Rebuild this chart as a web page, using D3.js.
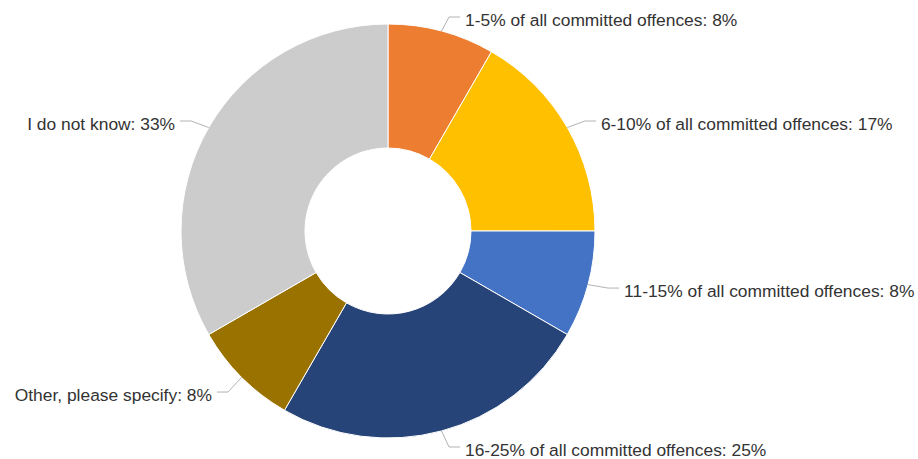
<!DOCTYPE html>
<html><head><meta charset="utf-8">
<script src="https://cdn.jsdelivr.net/npm/d3@7"></script>
<style>body{margin:0;background:#fff}svg{display:block}</style>
</head><body>
<svg id="chart" width="918" height="459"></svg>
<script>
const categories = ["1-5% of all committed offences","6-10% of all committed offences","11-15% of all committed offences","16-25% of all committed offences","Other, please specify","I do not know"];
const values = [8.33, 16.67, 8.33, 25, 8.33, 33.33];
const colors = ["#ED7D31","#FFC000","#4472C4","#264478","#9A7200","#CCCCCC"];

const W = 918, H = 459;
const cx = 388, cy = 231, rOuter = 207, rInner = 83, labelR = 232, pad = 12;
const svg = d3.select("#chart");
const data = categories.map((c,i)=>({cat:c, value:values[i], color:colors[i]}));
const pie = d3.pie().sort(null).value(d=>d.value);
const arcs = pie(data);
const arc = d3.arc().innerRadius(rInner).outerRadius(rOuter);
const total = d3.sum(values);

const g = svg.append("g").attr("transform",`translate(${cx},${cy})`);
g.selectAll("path.slice").data(arcs).join("path")
  .attr("class","slice").attr("d",arc).attr("fill",d=>d.data.color)
  .attr("stroke","#fff").attr("stroke-width",1);

arcs.forEach(a=>{
  const mid = (a.startAngle+a.endAngle)/2;
  const s = Math.sin(mid), c = Math.cos(mid);
  const side = s >= 0 ? 1 : -1;
  const ex = rOuter*s, ey = -rOuter*c;
  const nx = labelR*s, ny = -labelR*c;
  const ly = Math.max(20-cy, Math.min(450-cy, ny + (c > 0 ? 9 : 0)));
  const clamped = Math.abs(ly) > 200;
  const tx = nx + side*(clamped ? 17 : pad);
  const bx = tx - side*16, hx = tx - side*5;
  g.append("path")
    .attr("d",`M${ex},${ey}L${bx},${ly-3}L${hx},${ly-3}`)
    .attr("fill","none").attr("stroke","#b3b3b3").attr("stroke-width",1);
  g.append("text")
    .attr("x",tx).attr("y",ly).attr("dy","0.35em")
    .attr("text-anchor", side>0 ? "start":"end")
    .attr("font-family","'Liberation Sans', Arial, sans-serif")
    .attr("font-size","17.4px").attr("fill","#333333")
    .text(`${a.data.cat}: ${Math.round(a.data.value/total*100)}%`);
});
</script>
</body></html>
